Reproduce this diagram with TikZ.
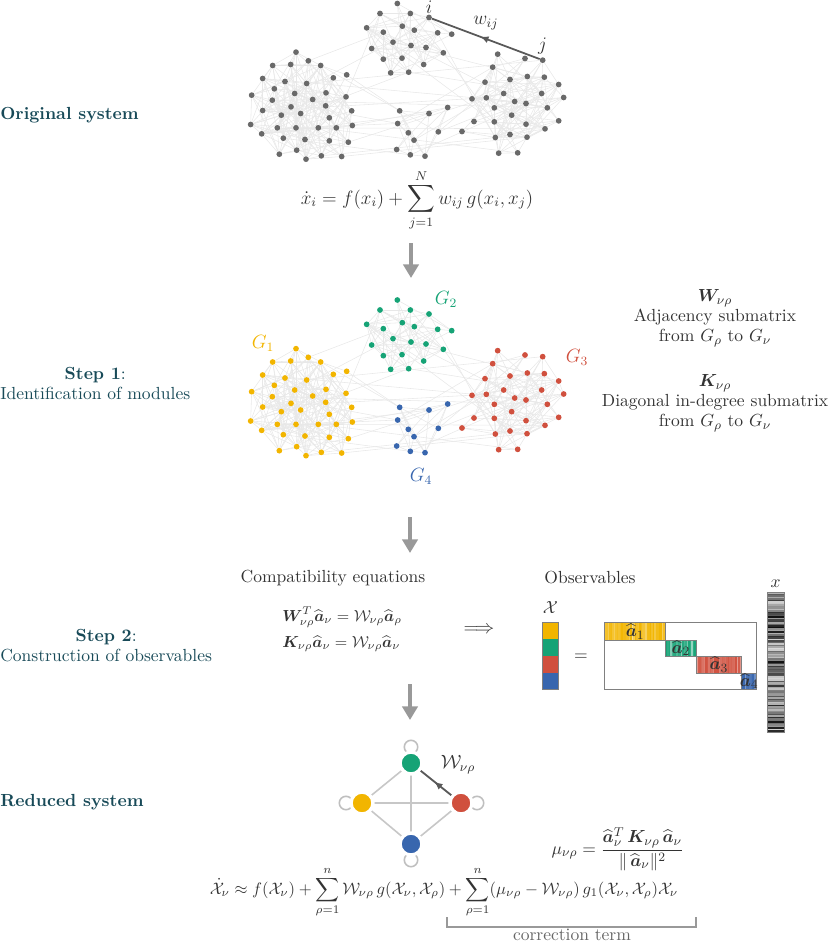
\documentclass[11pt,tikz,border=0pt]{standalone}
\usepackage{amsmath,amssymb,bm}
\usetikzlibrary{arrows.meta,decorations.markings,positioning,calc}

\definecolor{col1}{RGB}{242,181,0}
\definecolor{col2}{RGB}{22,163,118}
\definecolor{col3}{RGB}{208,80,62}
\definecolor{col4}{RGB}{56,102,174}
\definecolor{steptext}{RGB}{24,74,88}
\definecolor{netgray}{RGB}{105,105,105}

\pgfdeclarelayer{background}
\pgfsetlayers{background,main}

\tikzset{
  steplabel/.style={text=steptext, align=center, anchor=west, inner xsep=0pt, font=\fontsize{10.95}{12.5}\selectfont},
  plain/.style={text=black!80, align=center, font=\fontsize{10.95}{12.5}\selectfont},
  netedge/.style={draw=black!9, line width=0.35pt},
  dot/.style={circle, inner sep=0pt, minimum size=3.6pt},
  bigarrow/.style={draw=black!40, line width=2.7pt, -{Triangle[width=9.5pt,length=8.5pt]}},
  wedge/.style={draw=black!65, line width=1.1pt},
  midarrow/.style={postaction={decorate}, decoration={markings, mark=at position 0.55 with {\arrow{Latex[length=5pt,width=4.5pt]}}}},
  module/.style={circle, inner sep=0pt, minimum size=13.6pt, draw=white, line width=2pt},
  selfloop/.style={draw=black!25, line width=1pt},
  reducededge/.style={draw=black!22, line width=1pt},
  framed/.style={draw=black!50, line width=0.6pt},
}

% zoom coordinates of the network nodes / module
\def\modnodes{168/206/1, 98/246/1, 152/243/1, 205/232/1, 242/246/1, 68/285/1, 135/294/1, 200/300/1, 280/283/1, 320/274/1,
  103/316/1, 164/330/1, 258/328/1, 35/335/1, 97/350/1, 218/348/1, 318/340/1, 153/370/1, 257/367/1, 68/381/1,
  124/395/1, 182/390/1, 268/403/1, 335/382/1, 32/423/1, 112/433/1, 168/433/1, 235/433/1, 289/433/1, 337/426/1,
  65/451/1, 130/464/1, 195/468/1, 268/472/1, 325/476/1, 118/512/1, 170/500/1, 198/527/1, 244/517/1, 305/519/1,
  472/60/2, 420/90/2, 511/90/2, 567/102/2, 380/133/2, 430/146/2, 487/128/2, 523/140/2, 593/148/2, 635/152/2,
  459/176/2, 513/186/2, 558/192/2, 610/208/2, 395/195/2, 430/227/2, 486/224/2, 551/243/2, 452/268/2, 506/266/2,
  773/212/3, 855/225/3, 908/230/3, 758/251/3, 862/279/3, 913/281/3, 735/296/3, 810/288/3, 956/303/3, 696/346/3,
  739/343/3, 791/330/3, 905/330/3, 971/342/3, 763/373/3, 824/354/3, 858/360/3, 922/373/3, 702/414/3, 763/415/3,
  815/395/3, 858/422/3, 956/412/3, 666/444/3, 766/462/3, 810/453/3, 861/461/3, 915/436/3, 776/509/3, 833/508/3,
  479/382/4, 567/390/4, 623/372/4, 473/420/4, 505/448/4, 595/445/4, 522/470/4, 470/498/4, 511/514/4, 555/518/4}

\begin{document}
\begin{tikzpicture}[x=0.625pt, y=-0.625pt]
\useasboundingbox (0,0) rectangle (830,942);

% step labels
\node[steplabel] (orig) at (0,115) {\textbf{Original system}};
\node[steplabel] (step1) at (0,383) {\textbf{Step 1}:\\Identification of modules};
\node[steplabel] (step2) at (0,646) {\textbf{Step 2}:\\Construction of observables};
\node[steplabel] (reduced) at (0,802) {\textbf{Reduced system}};

% networks
\foreach \zx/\zy/\c [count=\i] in \modnodes {
  \expandafter\xdef\csname nx\i\endcsname{\zx}
  \expandafter\xdef\csname ny\i\endcsname{\zy}
  \expandafter\xdef\csname nc\i\endcsname{\c}
  \node[dot, fill=netgray] (o\i) at (240+\zx/3, -16.5+\zy/3) {};
  \node[dot, fill=col\c] (s\i) at (240+\zx/3, 280+\zy/3) {};
}
\pgfmathsetseed{2024}
\begin{pgfonlayer}{background}
\foreach \i in {1,...,99}{
  \pgfmathtruncatemacro{\jfirst}{\i+1}
  \foreach \j in {\jfirst,...,100}{
    \pgfmathsetmacro{\dd}{veclen(\csname nx\i\endcsname-\csname nx\j\endcsname,\csname ny\i\endcsname-\csname ny\j\endcsname)}
    \pgfmathsetmacro{\rr}{rnd}
    \ifnum\csname nc\i\endcsname=\csname nc\j\endcsname\relax
      \pgfmathtruncatemacro{\keep}{(\dd<110)*(\rr<0.55)+(\dd>=110)*(\dd<230)*(\rr<0.22)+(\dd>=230)*(\rr<0.05)}
    \else
      \pgfmathtruncatemacro{\keep}{\rr<0.014}
    \fi
    \ifnum\keep>0 \draw[netedge] (o\i) -- (o\j) (s\i) -- (s\j);\fi
  }
}
\end{pgfonlayer}

% weight w_ij
\draw[wedge, midarrow] (o63) -- (o44);
\node[plain, font=\large] (ilab) at ($(o44)+(0,-10)$) {$i$};
\node[plain, font=\large] (jlab) at ($(o63)+(0,-14)$) {$j$};
\node[plain, font=\large] (wlab) at ($(o44)!0.5!(o63)+(0,-16)$) {$w_{ij}$};

\node[plain, font=\large] (origeq) at (417,200) {$\displaystyle \dot x_i = f(x_i) + \sum_{j=1}^{N} w_{ij}\, g(x_i,x_j)$};

% modules
\node[text=col1, font=\large] (g1) at (263,343) {$G_1$};
\node[text=col2, font=\large] (g2) at (446,299) {$G_2$};
\node[text=col3, font=\large] (g3) at (577,357) {$G_3$};
\node[text=col4, font=\large] (g4) at (421,476) {$G_4$};

\node[plain] (wtext) at (715,318) {$\bm W_{\nu\rho}$\\Adjacency submatrix\\from $G_\rho$ to $G_\nu$};
\node[plain] (ktext) at (715,403) {$\bm K_{\nu\rho}$\\Diagonal in-degree submatrix\\from $G_\rho$ to $G_\nu$};

% arrows between steps
\coordinate (a1) at (411,243); \coordinate (b1) at (411,278);
\coordinate (a2) at (410,517); \coordinate (b2) at (410,553);
\coordinate (a3) at (410,684); \coordinate (b3) at (410,720);
\draw[bigarrow] (a1) -- (b1);
\draw[bigarrow] (a2) -- (b2);
\draw[bigarrow] (a3) -- (b3);

% step 2
\node[plain] (compat) at (333,578) {Compatibility equations};
\node[plain, font=\small] (compateq) at (342,630) {$\begin{aligned}
  &\bm W_{\nu\rho}^T \widehat{\bm a}_\nu = \mathcal W_{\nu\rho}\widehat{\bm a}_\rho\\
  &\bm K_{\nu\rho}\widehat{\bm a}_\nu = \mathcal W_{\nu\rho}\widehat{\bm a}_\nu
\end{aligned}$};
\node[plain, font=\large] (implies) at (479,630) {$\Longrightarrow$};
\node[plain] (obs) at (590,578) {Observables};
\node[plain] (xlab) at (550.5,608) {$\mathcal X$};
\node[plain] (xvec) at (775.5,584) {$x$};
\node[plain] (eq) at (581,657) {$=$};

\foreach \c [count=\k] in {col1,col2,col3,col4}
  \fill[\c] (542,{622.7+(\k-1)*16.65}) rectangle (558.7,{622.7+\k*16.65});
\draw[framed] (542,622.7) rectangle (558.7,689.3);

\draw[framed, fill=white] (604.7,622.7) rectangle (756.7,689.3);
\foreach \c/\xa/\xb/\ya/\yb/\k in {col1/604.7/665.7/622.7/640/1, col2/665.7/696/640/656.3/2,
    col3/696/741.7/656.3/673/3, col4/741.7/756.7/673/689.3/4}{
  \pgfmathtruncatemacro{\n}{(\xb-\xa)/1.5}
  \foreach \s in {0,...,\n}{
    \pgfmathtruncatemacro{\t}{100-60*rnd*rnd}
    \fill[\c!\t!white] ({\xa+\s*1.5},\ya) rectangle ({min(\xa+\s*1.5+1.5,\xb)},\yb);
  }
  \draw[framed] (\xa,\ya) rectangle (\xb,\yb);
  \node[plain] (ahat\k) at ({(\xa+\xb)/2},{(\ya+\yb)/2}) {$\widehat{\bm a}_\k$};
}

\foreach \s in {0,...,93}{
  \pgfmathtruncatemacro{\t}{15+80*rnd}
  \fill[black!\t] (767.3,{592+\s*1.5}) rectangle (784.7,{593.5+\s*1.5});
}
\draw[framed] (767.3,592) rectangle (784.7,732.3);

% reduced system
\node[module, fill=col2] (r2) at (411,763) {};
\node[module, fill=col1] (r1) at (362,803) {};
\node[module, fill=col3] (r3) at (461,803) {};
\node[module, fill=col4] (r4) at (411,844) {};
\begin{pgfonlayer}{background}
  \draw[reducededge] (r1) -- (r2) (r1) -- (r3) (r1) -- (r4) (r2) -- (r3) (r2) -- (r4) (r3) -- (r4);
  \draw[selfloop] ($(r2)+(0,-16)$) circle[radius=4.2pt];
  \draw[selfloop] ($(r1)+(-16,0)$) circle[radius=4.2pt];
  \draw[selfloop] ($(r3)+(16,0)$) circle[radius=4.2pt];
  \draw[selfloop] ($(r4)+(0,16)$) circle[radius=4.2pt];
\end{pgfonlayer}
\draw[wedge, midarrow] (r3) -- (r2);
\node[plain, font=\large] (wred) at (458,765) {$\mathcal W_{\nu\rho}$};

\node[plain, anchor=east] (mueq) at (690,849) {$\mu_{\nu\rho} = \dfrac{\widehat{\bm a}_\nu^T\, \bm K_{\nu\rho}\, \widehat{\bm a}_\nu}{\|\,\widehat{\bm a}_\nu\|^2}$};
\node[plain, anchor=base, font=\small] (redeq) at (444,894) {\scalebox{1.04}{$\displaystyle \dot{\mathcal X}_\nu \approx f(\mathcal X_\nu) + \sum_{\rho=1}^{n} \mathcal W_{\nu\rho}\, g(\mathcal X_\nu,\mathcal X_\rho) + \sum_{\rho=1}^{n} (\mu_{\nu\rho} - \mathcal W_{\nu\rho})\, g_1(\mathcal X_\nu,\mathcal X_\rho)\mathcal X_\nu$}};

\coordinate (brl) at (447,917);
\coordinate (brr) at (696,917);
\draw[draw=black!40, line width=0.8pt] (brl) -- ++(0,10) -| (brr);
\node[text=black!60] (corr) at (572,935) {correction term};
\end{tikzpicture}
\end{document}
